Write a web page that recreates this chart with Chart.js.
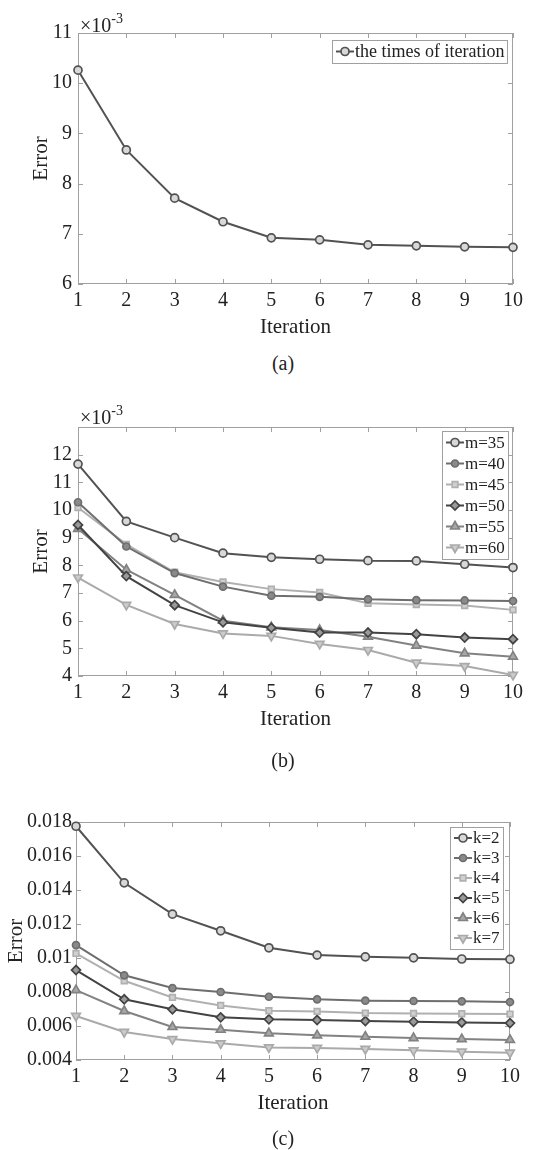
<!DOCTYPE html>
<html>
<head>
<meta charset="utf-8">
<script src="https://cdn.jsdelivr.net/npm/chart.js@4.4.1/dist/chart.umd.min.js"></script>
<style>
  body { margin: 0; background: #fff; width: 537px; height: 1150px; position: relative; overflow: hidden; font-family: "Liberation Serif", "Times New Roman", serif; color: #222; }
  canvas { position: absolute; left: 0; }
  .exp { position: absolute; left: 80px; font-size: 20px; line-height: 1; }
  .exp sup { font-size: 14px; position: relative; top: -1px; }
  .cap { position: absolute; left: 283px; transform: translate(-50%, -50%); font-size: 20px; }
</style>
</head>
<body>
<canvas id="chartA" width="537" height="344" style="top:0px"></canvas>
<canvas id="chartB" width="537" height="356" style="top:380px"></canvas>
<canvas id="chartC" width="537" height="350" style="top:770px"></canvas>
<div class="exp" style="top:13px">×10<sup>-3</sup></div>
<div class="exp" style="top:405px">×10<sup>-3</sup></div>
<div class="cap" style="top:363px">(a)</div>
<div class="cap" style="top:760px">(b)</div>
<div class="cap" style="top:1138px">(c)</div>
<script>
// datos
const iteraciones = [1, 2, 3, 4, 5, 6, 7, 8, 9, 10];

// (a) error x10^-3
const errTimes = [10.26, 8.67, 7.71, 7.24, 6.92, 6.88, 6.78, 6.76, 6.74, 6.73];

// (b) error x10^-3 para distintos m
const m35 = [11.66, 9.59, 9.00, 8.44, 8.29, 8.22, 8.17, 8.16, 8.04, 7.92];
const m40 = [10.28, 8.68, 7.72, 7.23, 6.90, 6.86, 6.77, 6.74, 6.73, 6.71];
const m45 = [10.09, 8.76, 7.75, 7.40, 7.14, 7.02, 6.63, 6.58, 6.55, 6.39];
const m50 = [9.46, 7.61, 6.56, 5.94, 5.74, 5.57, 5.57, 5.51, 5.39, 5.33];
const m55 = [9.32, 7.84, 6.93, 6.00, 5.76, 5.66, 5.42, 5.10, 4.82, 4.70];
const m60 = [7.56, 6.57, 5.88, 5.54, 5.45, 5.16, 4.94, 4.48, 4.36, 4.04];

// (c) error para distintos k
const k2 = [0.01775, 0.01442, 0.01258, 0.01160, 0.01060, 0.01017, 0.01007, 0.01001, 0.00994, 0.00992];
const k3 = [0.01076, 0.00898, 0.00823, 0.00800, 0.00772, 0.00757, 0.00749, 0.00747, 0.00745, 0.00741];
const k4 = [0.01027, 0.00866, 0.00768, 0.00721, 0.00690, 0.00686, 0.00676, 0.00674, 0.00672, 0.00670];
const k5 = [0.00929, 0.00757, 0.00698, 0.00651, 0.00639, 0.00635, 0.00629, 0.00625, 0.00621, 0.00617];
const k6 = [0.00811, 0.00688, 0.00594, 0.00578, 0.00557, 0.00545, 0.00537, 0.00529, 0.00523, 0.00518];
const k7 = [0.00659, 0.00565, 0.00523, 0.00498, 0.00474, 0.00471, 0.00465, 0.00457, 0.00449, 0.00443];

Chart.defaults.font.family = '"Liberation Serif", "Times New Roman", serif';
Chart.defaults.color = '#222';

const FRAME = '#a0a0a0';

// estilos de cada serie (color, marcador)
const estilos = [
  { color: '#525252', fill: '#d8d8d8', pointStyle: 'circle', radius: 4, rot: 0 },
  { color: '#6e6e6e', fill: '#8a8a8a', pointStyle: 'circle', radius: 3.5, rot: 0 },
  { color: '#b0b0b0', fill: '#d0d0d0', pointStyle: 'rect', radius: 4, rot: 0 },
  { color: '#434343', fill: '#9a9a9a', pointStyle: 'rectRot', radius: 4.5, rot: 0 },
  { color: '#828282', fill: '#a8a8a8', pointStyle: 'triangle', radius: 5, rot: 0 },
  { color: '#aaaaaa', fill: '#cccccc', pointStyle: 'triangle', radius: 5, rot: 180 },
];

function serie(label, data, st) {
  return {
    label,
    data,
    borderColor: st.color,
    borderWidth: 2,
    pointStyle: st.pointStyle,
    pointRadius: st.radius,
    pointRotation: st.rot,
    pointBorderColor: st.color,
    pointBackgroundColor: st.fill,
    pointBorderWidth: 1.7,
    tension: 0,
    fill: false,
    clip: false,
  };
}

// marco del eje con ticks hacia adentro
const frame = {
  id: 'frame',
  beforeDatasetsDraw(chart) {
    const { ctx, chartArea: a, scales: { x, y } } = chart;
    ctx.save();
    ctx.strokeStyle = FRAME;
    ctx.lineWidth = 1;
    ctx.strokeRect(Math.round(a.left) + 0.5, Math.round(a.top) + 0.5, Math.round(a.width) - 1, Math.round(a.height) - 1);
    ctx.beginPath();
    x.ticks.forEach((t, i) => {
      const px = Math.round(x.getPixelForTick(i)) + 0.5;
      ctx.moveTo(px, a.bottom); ctx.lineTo(px, a.bottom - 5);
      ctx.moveTo(px, a.top); ctx.lineTo(px, a.top + 5);
    });
    y.ticks.forEach((t, i) => {
      const py = Math.round(y.getPixelForTick(i)) + 0.5;
      ctx.moveTo(a.left, py); ctx.lineTo(a.left + 5, py);
      ctx.moveTo(a.right, py); ctx.lineTo(a.right - 5, py);
    });
    ctx.stroke();
    ctx.restore();
  }
};

// leyenda con borde dentro del área del gráfico
const boxLegend = {
  id: 'boxLegend',
  afterDraw(chart, args, opts) {
    const { ctx, chartArea: a } = chart;
    const sets = chart.data.datasets;
    ctx.save();
    ctx.font = opts.font + 'px "Liberation Serif", "Times New Roman", serif';
    const textW = Math.max(...sets.map(d => ctx.measureText(d.label).width));
    const w = Math.round(4 + opts.lineLen + 1 + textW + 3);
    const h = Math.round(sets.length * opts.rowH + 2);
    const x0 = Math.round(a.right - opts.right - w);
    const y0 = Math.round(a.top + opts.top);
    ctx.fillStyle = '#fff';
    ctx.fillRect(x0, y0, w, h);
    ctx.strokeStyle = FRAME;
    ctx.lineWidth = 1;
    ctx.strokeRect(x0 + 0.5, y0 + 0.5, w, h);
    sets.forEach((d, i) => {
      const cy = y0 + 1 + opts.rowH * (i + 0.5);
      const lx = x0 + 4;
      ctx.strokeStyle = d.borderColor;
      ctx.lineWidth = d.borderWidth;
      ctx.beginPath();
      ctx.moveTo(lx, cy); ctx.lineTo(lx + opts.lineLen, cy);
      ctx.stroke();
      ctx.fillStyle = d.pointBackgroundColor;
      ctx.strokeStyle = d.pointBorderColor;
      ctx.lineWidth = d.pointBorderWidth;
      const mx = lx + opts.lineLen / 2;
      if (Chart.helpers && Chart.helpers.drawPoint) {
        Chart.helpers.drawPoint(ctx, {
          pointStyle: d.pointStyle, radius: d.pointRadius,
          rotation: d.pointRotation || 0, borderWidth: d.pointBorderWidth
        }, mx, cy);
      } else {
        ctx.beginPath(); ctx.arc(mx, cy, d.pointRadius, 0, Math.PI * 2); ctx.fill(); ctx.stroke();
      }
      ctx.fillStyle = '#222';
      ctx.textAlign = 'left';
      ctx.textBaseline = 'middle';
      ctx.fillText(d.label, lx + opts.lineLen + 1, cy + 1);
    });
    ctx.restore();
  }
};

function crearGrafico(id, datasets, cfg) {
  return new Chart(document.getElementById(id), {
    type: 'line',
    data: { labels: iteraciones, datasets },
    plugins: [frame, boxLegend],
    options: {
      responsive: false,
      animation: false,
      layout: { padding: { left: 0, right: cfg.padRight, top: cfg.padTop, bottom: 0 } },
      plugins: {
        legend: { display: false },
        tooltip: { enabled: false },
        boxLegend: cfg.legend,
      },
      scales: {
        x: {
          offset: false,
          grid: { display: false, drawTicks: false, tickLength: 0 },
          border: { display: false },
          ticks: { font: { size: 20 }, padding: 5, maxRotation: 0, autoSkip: false },
          title: { display: true, text: 'Iteration', font: { size: 21 }, padding: { top: 0, bottom: cfg.xTitleBottom } },
          afterFit: s => { s.height = 60; }
        },
        y: {
          min: cfg.yMin,
          max: cfg.yMax,
          grid: { display: false, drawTicks: false, tickLength: 0 },
          border: { display: false },
          ticks: { stepSize: cfg.yStep, font: { size: 20 }, padding: cfg.yTickPad, callback: cfg.yFmt },
          title: { display: true, text: 'Error', font: { size: 21 }, padding: { top: cfg.yTitleTop, bottom: 0 } },
          afterFit: s => { s.width = cfg.yWidth; }
        }
      }
    }
  });
}

crearGrafico('chartA', [serie('the times of iteration', errTimes, estilos[0])], {
  padRight: 24, padTop: 33, yMin: 6, yMax: 11, yStep: 1, yWidth: 78, yTickPad: 6, yTitleTop: 29,
  xTitleBottom: 4, yFmt: v => String(v),
  legend: { right: 6, top: 7, rowH: 21, lineLen: 18, font: 18 }
});

crearGrafico('chartB', [
  serie('m=35', m35, estilos[0]),
  serie('m=40', m40, estilos[1]),
  serie('m=45', m45, estilos[2]),
  serie('m=50', m50, estilos[3]),
  serie('m=55', m55, estilos[4]),
  serie('m=60', m60, estilos[5]),
], {
  padRight: 24, padTop: 47, yMin: 4, yMax: 13, yStep: 1, yWidth: 78, yTickPad: 6, yTitleTop: 29,
  xTitleBottom: 4, yFmt: v => (v >= 13 ? '' : String(v)),
  legend: { right: 5, top: 4, rowH: 21, lineLen: 18, font: 17 }
});

crearGrafico('chartC', [
  serie('k=2', k2, estilos[0]),
  serie('k=3', k3, estilos[1]),
  serie('k=4', k4, estilos[2]),
  serie('k=5', k5, estilos[3]),
  serie('k=6', k6, estilos[4]),
  serie('k=7', k7, estilos[5]),
], {
  padRight: 27, padTop: 52, yMin: 0.004, yMax: 0.018, yStep: 0.002, yWidth: 76, yTickPad: 4, yTitleTop: 4,
  xTitleBottom: 4, yFmt: v => String(parseFloat(Number(v).toFixed(3))),
  legend: { right: 7, top: 5, rowH: 20, lineLen: 18, font: 17 }
});
</script>
</body>
</html>
